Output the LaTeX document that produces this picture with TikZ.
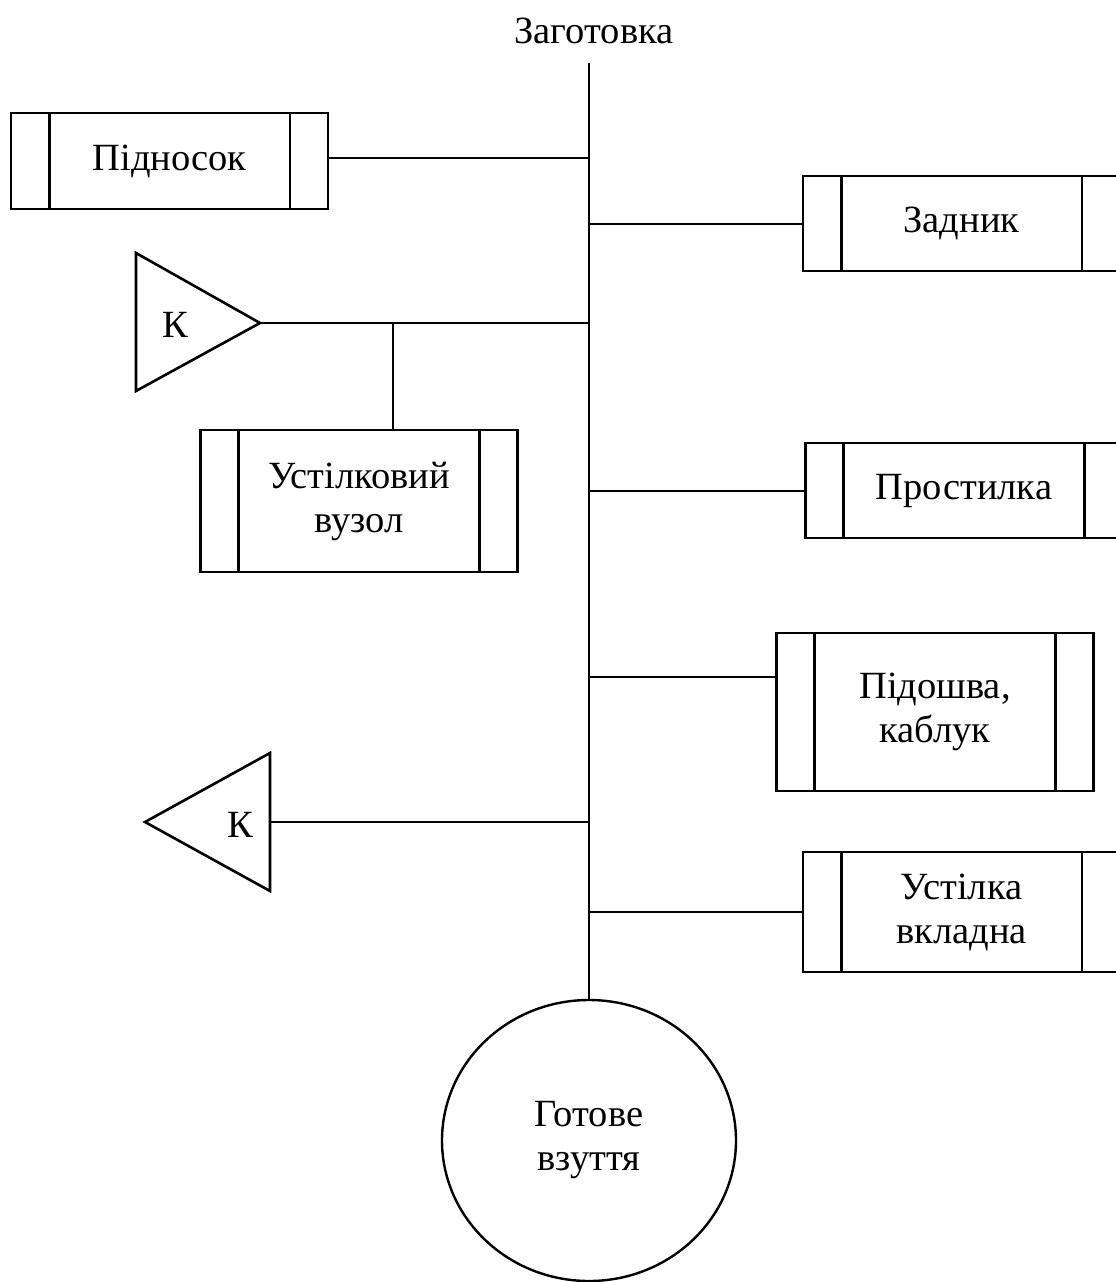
\documentclass[tikz,border=0pt]{standalone}
\usepackage{fontspec}
\setmainfont{Liberation Serif}
\usetikzlibrary{shapes.geometric}
\begin{document}
\begin{tikzpicture}[x=1pt,y=-1pt,
  every node/.style={font=\fontsize{38.5}{44}\selectfont, align=center},
  procbox/.style={draw, line width=2.6pt, minimum width=317pt, inner sep=0pt},
  shape line/.style={line width=2.6pt, line join=miter},
  link/.style={line width=2pt},
  endpt/.style={draw, line width=2.4pt, ellipse, inner sep=0pt}
]
\useasboundingbox (0,0) rectangle (1116,1282);
\clip (0,0) rectangle (1116,1282);

% title and the main line
\node (title) at (594,31) {Заготовка};
\coordinate (top) at (589,63);

% process boxes
\node[procbox, minimum height=96pt]  (pidnosok) at (169.5,161)   {Підносок};
\node[procbox, minimum height=95pt]  (zadnyk)   at (961.5,223.5) {Задник};
\node[procbox, minimum height=142pt] (vuzol)    at (359,501)     {Устілковий\\вузол};
\node[procbox, minimum height=95pt]  (prost)    at (964,490.5)   {Простилка};
\node[procbox, minimum height=158pt] (pidosh)   at (935,712)     {Підошва,\\каблук};
\node[procbox, minimum height=120pt] (vkl)      at (961.5,912)   {Устілка\\вкладна};

% inner side bars of the process boxes
\foreach \b in {pidnosok,zadnyk,vuzol,prost,pidosh,vkl}{
  \draw[shape line] ([xshift=39.5pt]\b.north west) -- ([xshift=39.5pt]\b.south west);
  \draw[shape line] ([xshift=-39.5pt]\b.north east) -- ([xshift=-39.5pt]\b.south east);
}

% control points (triangles)
\draw[shape line] (136,253) -- (260,323) -- (136,391) -- cycle;
\coordinate (k1tip) at (260,323);
\node (k1) at (175,325) {К};
\draw[shape line] (270,753) -- (145,822) -- (270,891) -- cycle;
\coordinate (k2base) at (270,822);
\node (k2) at (240,825) {К};

% finished product
\node[endpt, minimum width=294pt, minimum height=281pt] (gotove) at (589,1140.5) {Готове\\взуття};

% connectors
\draw[link] (top) -- (gotove.north);
\draw[link] ([yshift=3pt]pidnosok.east) -- ([yshift=3pt]pidnosok.east -| top);
\draw[link] (zadnyk.west) -- (zadnyk.west -| top);
\draw[link] (k1tip) -- (k1tip -| top);
\coordinate (branch) at (393,323);
\draw[link] (branch) -- (branch |- vuzol.north);
\draw[link] (prost.west) -- (prost.west -| top);
\draw[link] ([yshift=35pt]pidosh.west) -- ([yshift=35pt]pidosh.west -| top);
\draw[link] (k2base) -- (k2base -| top);
\draw[link] (vkl.west) -- (vkl.west -| top);
\end{tikzpicture}
\end{document}
